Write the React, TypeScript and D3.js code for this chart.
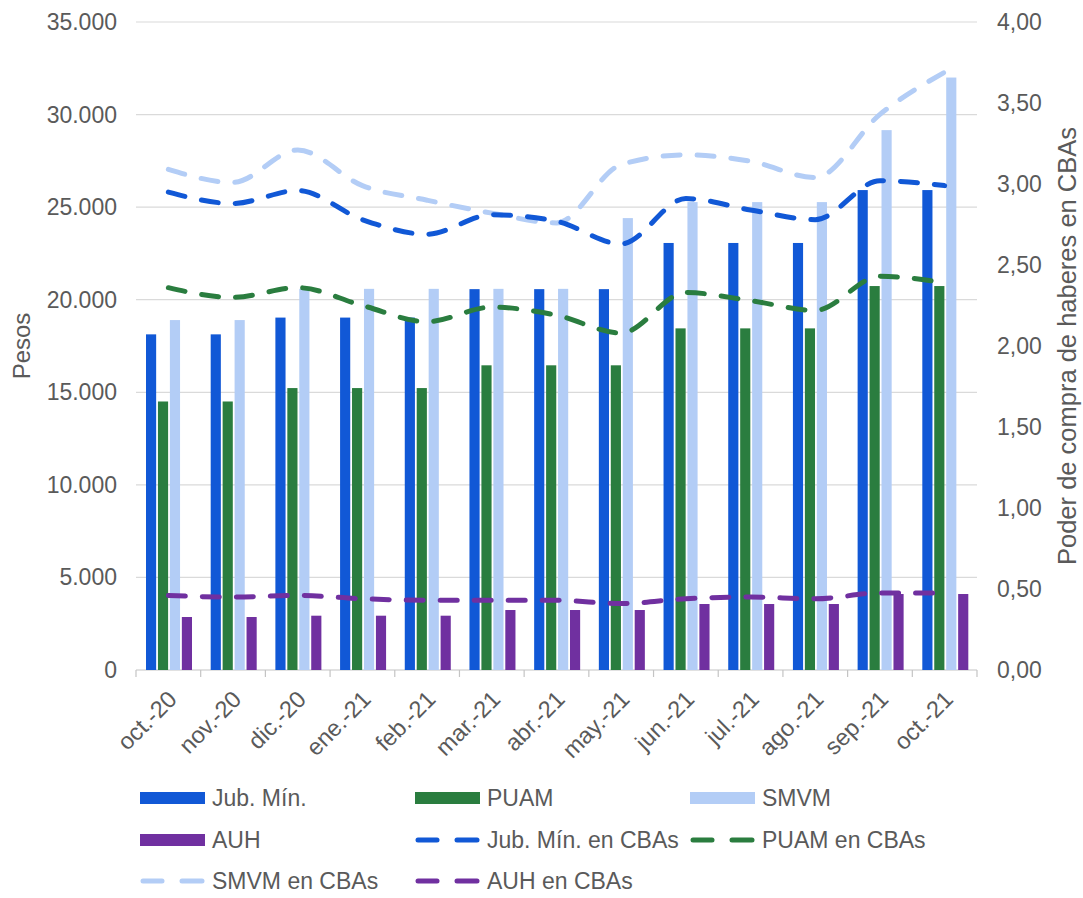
import React from "react";
import * as d3 from "d3";

const months = ["oct.-20", "nov.-20", "dic.-20", "ene.-21", "feb.-21", "mar.-21", "abr.-21", "may.-21", "jun.-21", "jul.-21", "ago.-21", "sep.-21", "oct.-21"];

// pesos (left axis)
const jubMin = [18129, 18129, 19035, 19035, 19035, 20571, 20571, 20571, 23065, 23065, 23065, 25922, 25922];
const puam = [14503, 14503, 15228, 15228, 15228, 16457, 16457, 16457, 18452, 18452, 18452, 20738, 20738];
const smvm = [18900, 18900, 20587, 20587, 20587, 20587, 20587, 24408, 25272, 25272, 25272, 29160, 32000];
const auh = [2862, 2862, 2933, 2933, 2933, 3240, 3240, 3240, 3564, 3564, 3564, 4104, 4104];

// CBAs (right axis)
const jubCba = [2.95, 2.88, 2.96, 2.78, 2.69, 2.81, 2.77, 2.63, 2.91, 2.84, 2.78, 3.02, 2.99];
const puamCba = [2.36, 2.3, 2.36, 2.25, 2.15, 2.24, 2.19, 2.08, 2.33, 2.28, 2.22, 2.43, 2.39];
const smvmCba = [3.09, 3.01, 3.21, 2.99, 2.9, 2.82, 2.76, 3.12, 3.18, 3.14, 3.04, 3.43, 3.69];
const auhCba = [0.46, 0.45, 0.46, 0.44, 0.43, 0.43, 0.43, 0.41, 0.44, 0.45, 0.44, 0.475, 0.475];

const leftTicks = [0, 5000, 10000, 15000, 20000, 25000, 30000, 35000];
const rightTicks = [0, 0.5, 1, 1.5, 2, 2.5, 3, 3.5, 4];

const BLUE = "#1158d6";
const GREEN = "#2a7d3f";
const LIGHT = "#b3cdf6";
const PURPLE = "#7030a0";
const TXT = "#5a5a5a";
const FONT = "'Liberation Sans', Arial, sans-serif";

const barSeries = [
  { name: "Jub. Mín.", values: jubMin, color: BLUE },
  { name: "PUAM", values: puam, color: GREEN },
  { name: "SMVM", values: smvm, color: LIGHT },
  { name: "AUH", values: auh, color: PURPLE },
];
const lineSeries = [
  { name: "SMVM en CBAs", values: smvmCba, color: LIGHT },
  { name: "Jub. Mín. en CBAs", values: jubCba, color: BLUE },
  { name: "PUAM en CBAs", values: puamCba, color: GREEN },
  { name: "AUH en CBAs", values: auhCba, color: PURPLE },
];

const legendItems = [
  { name: "Jub. Mín.", color: BLUE, kind: "bar" },
  { name: "PUAM", color: GREEN, kind: "bar" },
  { name: "SMVM", color: LIGHT, kind: "bar" },
  { name: "AUH", color: PURPLE, kind: "bar" },
  { name: "Jub. Mín. en CBAs", color: BLUE, kind: "line" },
  { name: "PUAM en CBAs", color: GREEN, kind: "line" },
  { name: "SMVM en CBAs", color: LIGHT, kind: "line" },
  { name: "AUH en CBAs", color: PURPLE, kind: "line" },
];

const W = 1083;
const H = 898;
const left = 136;
const right = 977;
const top = 22;
const bottom = 670;

const locale = d3.formatLocale({ decimal: ",", thousands: ".", grouping: [3], currency: ["$", ""] });
const fmtL = locale.format(",.0f");
const fmtR = locale.format(".2f");

export default function App() {
  const x = d3.scaleBand<string>().domain(months).range([left, right]).padding(0);
  const inner = d3.scaleBand<string>().domain(barSeries.map((s) => s.name)).range([10, 56]).paddingInner(0.15);
  const yL = d3.scaleLinear().domain([0, 35000]).range([bottom, top]);
  const yR = d3.scaleLinear().domain([0, 4]).range([bottom, top]);
  const cx = (m: string) => x(m)! + x.bandwidth() / 2;

  const line = d3
    .line<number>()
    .x((_, i) => cx(months[i]))
    .y((v) => yR(v))
    .curve(d3.curveMonotoneX);

  const legendCols = [140, 415, 690];
  const legendRows = [798, 840, 881];

  return (
    <svg width={W} height={H} style={{ position: "absolute", left: 0, top: 0, background: "#fff" }} fontFamily={FONT}>
      {/* grid */}
      {leftTicks.map((t) => (
        <line key={t} x1={left} x2={right} y1={yL(t)} y2={yL(t)} stroke={t === 0 ? "#c4c4c4" : "#dadada"} strokeWidth={1.2} />
      ))}
      {/* x ticks */}
      {[...months.map((m) => x(m)!), right].map((v, i) => (
        <line key={i} x1={v} x2={v} y1={bottom} y2={bottom + 7} stroke="#c4c4c4" strokeWidth={1.2} />
      ))}
      {/* left ticks */}
      {leftTicks.map((t) => (
        <text key={t} x={117} y={yL(t)} dy="0.35em" textAnchor="end" fontSize={23} fill={TXT}>
          {fmtL(t)}
        </text>
      ))}
      {/* right ticks */}
      {rightTicks.map((t) => (
        <text key={t} x={997} y={yR(t)} dy="0.35em" textAnchor="start" fontSize={23} fill={TXT}>
          {fmtR(t)}
        </text>
      ))}
      {/* x labels */}
      {months.map((m) => (
        <text
          key={m}
          transform={`translate(${cx(m) + 4},${bottom + 25}) rotate(-45)`}
          textAnchor="end"
          dy="0.35em"
          fontSize={23.5}
          fill={TXT}
        >
          {m}
        </text>
      ))}
      {/* axis titles */}
      <text transform={`translate(22,346) rotate(-90)`} textAnchor="middle" dy="0.35em" fontSize={24} fill={TXT}>
        Pesos
      </text>
      <text transform={`translate(1067,346) rotate(-90)`} textAnchor="middle" dy="0.35em" fontSize={25.5} fill={TXT}>
        Poder de compra de haberes en CBAs
      </text>
      {/* bars */}
      {barSeries.map((s) => (
        <g key={s.name} fill={s.color}>
          {s.values.map((v, i) => (
            <rect
              key={i}
              x={x(months[i])! + inner(s.name)!}
              y={yL(v)}
              width={inner.bandwidth()}
              height={yL(0) - yL(v)}
            />
          ))}
        </g>
      ))}
      {/* lines */}
      {lineSeries.map((s) => (
        <path
          key={s.name}
          d={line(s.values)!}
          fill="none"
          stroke={s.color}
          strokeWidth={5}
          strokeDasharray="17 17"
          strokeLinecap="round"
        />
      ))}
      {/* legend */}
      {legendItems.map((it, i) => {
        const lx = legendCols[i % 3];
        const ly = legendRows[Math.floor(i / 3)];
        return (
          <g key={it.name} transform={`translate(${lx},${ly})`}>
            {it.kind === "bar" ? (
              <rect x={0} y={-6} width={65} height={12} fill={it.color} />
            ) : (
              <g stroke={it.color} strokeWidth={5} strokeLinecap="round">
                <line x1={3} x2={22} y1={0} y2={0} />
                <line x1={42} x2={62} y1={0} y2={0} />
              </g>
            )}
            <text x={72} dy="0.36em" fontSize={23} fill={TXT}>
              {it.name}
            </text>
          </g>
        );
      })}
    </svg>
  );
}
